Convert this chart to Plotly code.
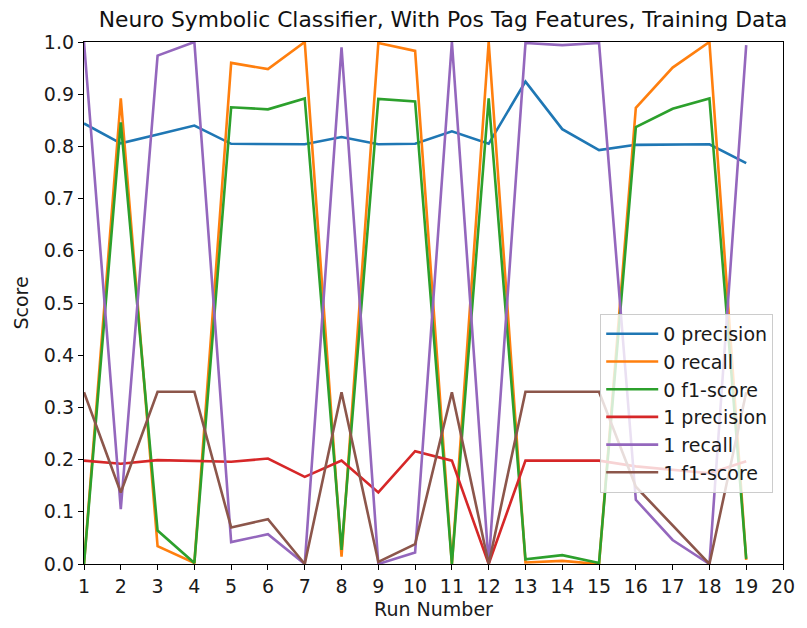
import plotly.graph_objects as go

runs = list(range(1, 20))
precision_0 = [0.844, 0.806, 0.823, 0.840, 0.805, 0.805, 0.804, 0.818, 0.804, 0.805, 0.829, 0.805, 0.924, 0.833, 0.793, 0.803, 0.803, 0.804, 0.768]
recall_0 = [0.0, 0.892, 0.034, 0.002, 0.960, 0.948, 1.0, 0.014, 0.998, 0.983, 0.0, 1.0, 0.003, 0.006, 0.0, 0.874, 0.951, 1.0, 0.008]
f1_0 = [0.0, 0.846, 0.064, 0.002, 0.875, 0.871, 0.892, 0.027, 0.891, 0.886, 0.0, 0.892, 0.009, 0.017, 0.002, 0.837, 0.872, 0.892, 0.010]
precision_1 = [0.198, 0.192, 0.199, 0.198, 0.196, 0.202, 0.167, 0.198, 0.137, 0.216, 0.198, 0.0, 0.198, 0.198, 0.198, 0.187, 0.181, 0.174, 0.197]
recall_1 = [1.0, 0.105, 0.974, 1.0, 0.042, 0.057, 0.0, 0.990, 0.0, 0.022, 1.0, 0.0, 0.998, 0.994, 0.998, 0.123, 0.046, 0.0, 0.994]
f1_1 = [0.329, 0.137, 0.330, 0.330, 0.070, 0.086, 0.0, 0.329, 0.004, 0.038, 0.329, 0.0, 0.330, 0.330, 0.330, 0.148, 0.073, 0.0, 0.329]

series = [
    ("0 precision", precision_0, "#1f77b4"),
    ("0 recall", recall_0, "#ff7f0e"),
    ("0 f1-score", f1_0, "#2ca02c"),
    ("1 precision", precision_1, "#d62728"),
    ("1 recall", recall_1, "#9467bd"),
    ("1 f1-score", f1_1, "#8c564b"),
]
x_ticks = list(range(1, 21))
y_ticks = [i / 10 for i in range(11)]

font = "DejaVu Sans"
W, H = 799, 620
L, R, T, B = 76, 24, 34, 64
fig = go.Figure()
for name, vals, color in series:
    fig.add_trace(go.Scatter(x=runs, y=vals, mode="lines", name=name,
                             line=dict(color=color, width=2.6)))

fig.update_layout(
    width=W, height=H,
    margin=dict(l=L, r=R, t=T, b=B),
    paper_bgcolor="white", plot_bgcolor="white",
    font=dict(family=font, size=19, color="#1a1a1a"),
    title=dict(text="Neuro Symbolic Classifier, With Pos Tag Features, Training Data",
               x=435 / W, xanchor="center", y=1 - 11 / H, yanchor="middle",
               yref="container", font=dict(family=font, size=21.8, color="#111")),
    legend=dict(x=0.986, xanchor="right", y=0.479, yanchor="top",
                bgcolor="rgba(255,255,255,0.8)", bordercolor="#cccccc", borderwidth=1,
                font=dict(family=font, size=19, color="#1a1a1a"), tracegroupgap=0,
                itemwidth=52),
    showlegend=True,
)
fig.update_xaxes(range=[1, 20], tickmode="array", tickvals=x_ticks, ticktext=[str(t) for t in x_ticks],
                 showgrid=False, zeroline=False, showline=True, linecolor="black", linewidth=1.3,
                 mirror=True, ticks="outside", ticklen=5, tickcolor="black",
                 title=dict(text="Run Number", standoff=6, font=dict(size=19)),
                 tickfont=dict(size=19))
fig.update_yaxes(range=[0, 1], tickmode="array", tickvals=y_ticks, ticktext=[f"{t:.1f}" for t in y_ticks],
                 showgrid=False, zeroline=False, showline=True, linecolor="black", linewidth=1.3,
                 mirror=True, ticks="outside", ticklen=5, tickcolor="black",
                 title=dict(text="Score", standoff=10, font=dict(size=19)),
                 tickfont=dict(size=19))

fig.write_html("out.html")
